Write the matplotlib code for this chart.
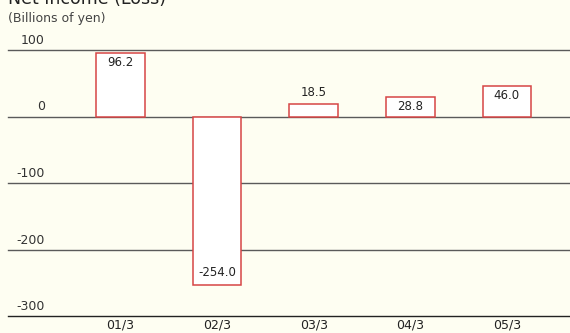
import matplotlib
matplotlib.use("Agg")
import matplotlib.pyplot as plt

categories = ["01/3", "02/3", "03/3", "04/3", "05/3"]
values = [96.2, -254.0, 18.5, 28.8, 46.0]
labels = ["96.2", "-254.0", "18.5", "28.8", "46.0"]
yticks = [100, 0, -100, -200, -300]

bg = "#fefef2"
PX = 72 / 100  # points per pixel

fig = plt.figure(figsize=(5.7, 3.33), dpi=100, facecolor=bg)
ax = fig.add_axes([8/570, 17/333, 562/570, 266/333])
ax.set_facecolor(bg)
ax.patch.set_alpha(0)
ax.set_ylim(-300, 100)
ax.set_xlim((8 - 120.5) / 96.6, (570 - 120.5) / 96.6)
for s in ax.spines.values():
    s.set_visible(False)
ax.set_xticks([])
ax.set_yticks([])

for t in yticks:
    ax.axhline(t, color="#222222" if t == -300 else "#5a5a5a", lw=1.0, zorder=1, clip_on=False)
    ax.annotate(str(t), xy=(0, t), xycoords=("axes fraction", "data"),
                xytext=(37 * PX, 3 * PX), textcoords="offset points", ha="right", va="bottom",
                fontsize=9, color="#333333")

x = list(range(len(categories)))
ax.bar(x, values, width=0.505, color="white", edgecolor="#d64545", linewidth=1.1, zorder=2)

# value label positions (pixel offset of label centre from bar end)
label_offsets_px = [-10, 13, 12, None, -10]
for i, (v, lab) in enumerate(zip(values, labels)):
    off = label_offsets_px[i]
    if off is None:
        ax.annotate(lab, xy=(i, v / 2), ha="center", va="center",
                    fontsize=8.5, color="#222222", zorder=3)
    else:
        ax.annotate(lab, xy=(i, v), xytext=(0, off * PX), textcoords="offset points",
                    ha="center", va="center", fontsize=8.5, color="#222222", zorder=3)

for i, c in enumerate(categories):
    ax.annotate(c, xy=(i, -300), xytext=(0, -3 * PX), textcoords="offset points",
                ha="center", va="top", fontsize=9, color="#222222")

fig.text(8/570, 1 - 4/333, "Net Income (Loss)", ha="left", va="baseline",
         fontsize=12.5, color="#222222")
fig.text(8/570, 1 - 22/333, "(Billions of yen)", ha="left", va="baseline",
         fontsize=9, color="#444444")

fig.savefig("out.png", dpi=100, facecolor=bg)
